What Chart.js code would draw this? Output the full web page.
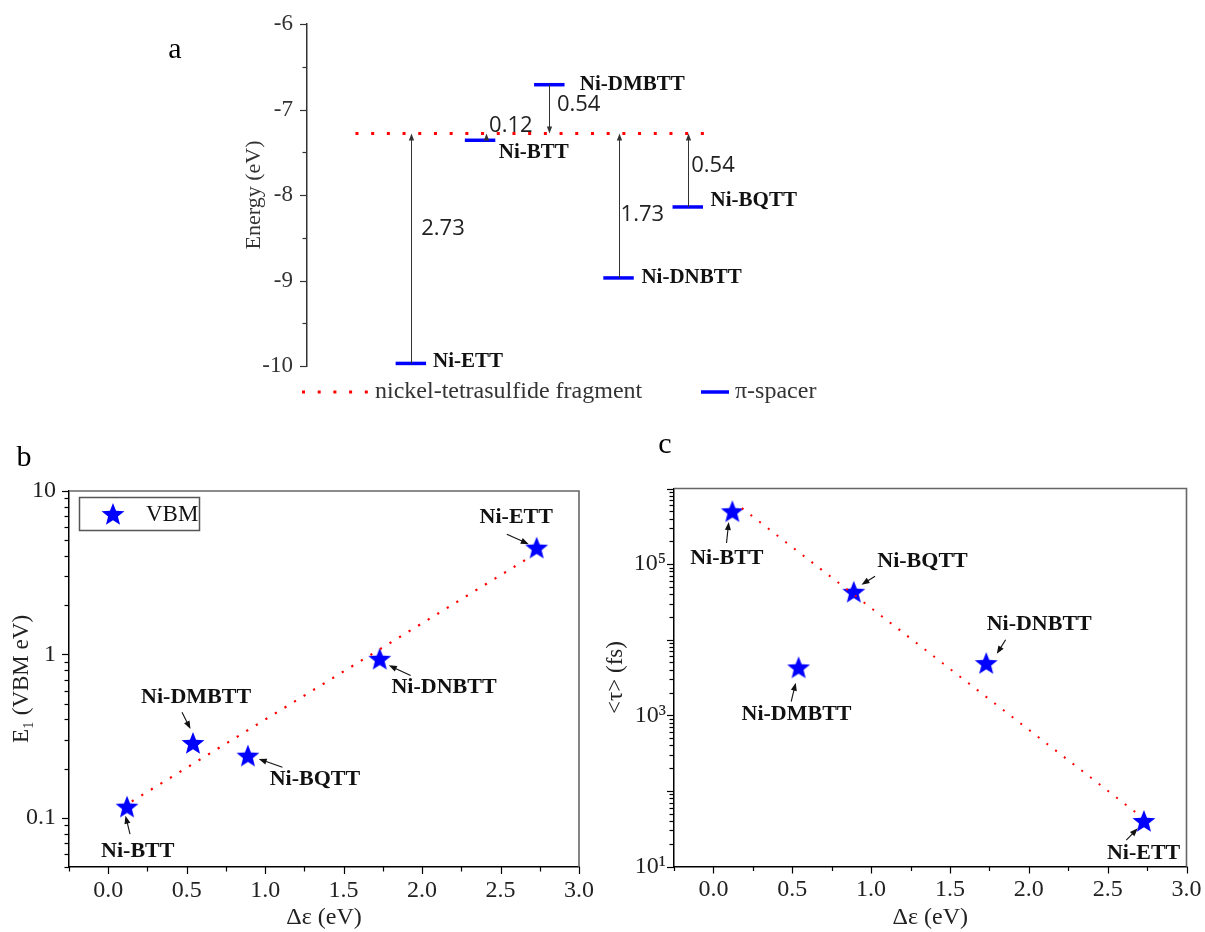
<!DOCTYPE html>
<html>
<head>
<meta charset="utf-8">
<title>Ni-bis(dithiolene) levels, E1 and lifetime</title>
<script src="https://cdn.jsdelivr.net/npm/chart.js@4.4.1/dist/chart.umd.min.js"></script>
<style>
  html, body { margin: 0; padding: 0; background: #fff; }
  #page { position: relative; width: 1205px; height: 932px; overflow: hidden; }
  canvas { position: absolute; }
  #chartA { left: 140px; top: 0; }
  #chartB { left: 0; top: 430px; }
  #chartC { left: 600px; top: 430px; }
</style>
</head>
<body>
<div id="page">
  <canvas id="chartA" width="740" height="415"></canvas>
  <canvas id="chartB" width="600" height="502"></canvas>
  <canvas id="chartC" width="605" height="502"></canvas>
</div>
<script>
// ---- panel a : energy levels ----
const molecules = ['Ni-ETT', 'Ni-BTT', 'Ni-DMBTT', 'Ni-DNBTT', 'Ni-BQTT'];
const spacerEnergy = [-9.97, -7.36, -6.71, -8.97, -8.14];   // eV
const fragmentEnergy = -7.28;                               // eV
const fragmentSpan = [-0.8, 4.3];                           // in molecule index units
const gapLabels = ['2.73', '0.12', '0.54', '1.73', '0.54'];
const energyTicks = [-10, -9, -8, -7, -6];

// ---- panels b, c ----
const pointNames = ['Ni-BTT', 'Ni-DMBTT', 'Ni-BQTT', 'Ni-DNBTT', 'Ni-ETT'];
const deltaEps = [0.12, 0.54, 0.89, 1.73, 2.73];            // eV
const vbmE1 = [0.117, 0.287, 0.24, 0.94, 4.5];              // eV
const tauFs = [5.0e5, 4.3e3, 4.3e4, 4.9e3, 40];             // fs
const fitVbmX = [0.15, 2.68];
const fitVbmY = [0.126, 3.9];
const fitTauX = [0.18, 2.70];
const fitTauY = [5.5e5, 48];
const deltaTicks = [0, 0.5, 1.0, 1.5, 2.0, 2.5, 3.0];
const vbmTicks = [0.1, 1, 10];
const tauTicks = [10, 1e3, 1e5];
const tauTickLabels = ['10\u00B9', '10\u00B3', '10\u2075'];

const SERIF = "'Liberation Serif', 'Times New Roman', serif";
Chart.defaults.font.family = SERIF;
Chart.defaults.color = '#222';

// filled five point star used as marker
function makeStar(r) {
    const c = document.createElement('canvas');
    const s = Math.ceil(r * 2 + 2);
    c.width = s; c.height = s;
    const g = c.getContext('2d');
    g.fillStyle = '#0000ff';
    g.beginPath();
    for (let k = 0; k < 10; k++) {
        const rad = k % 2 === 0 ? r : r * 0.43;
        const a = -Math.PI / 2 + k * Math.PI / 5;
        const px = s / 2 + rad * Math.cos(a), py = s / 2 + 1 + rad * Math.sin(a);
        if (k === 0) g.moveTo(px, py); else g.lineTo(px, py);
    }
    g.closePath();
    g.fill();
    return c;
}
const starImg = makeStar(12);

function arrow(ctx, x1, y1, x2, y2, head, color, lw) {
    const ang = Math.atan2(y2 - y1, x2 - x1);
    const c = Math.cos(ang), s = Math.sin(ang);
    ctx.strokeStyle = color; ctx.fillStyle = color; ctx.lineWidth = lw;
    ctx.beginPath();
    ctx.moveTo(x1, y1);
    ctx.lineTo(x2 - c * head * 0.7, y2 - s * head * 0.7);
    ctx.stroke();
    ctx.beginPath();
    ctx.moveTo(x2, y2);
    ctx.lineTo(x2 - head * c + head * 0.38 * s, y2 - head * s - head * 0.38 * c);
    ctx.lineTo(x2 - head * c - head * 0.38 * s, y2 - head * s + head * 0.38 * c);
    ctx.closePath();
    ctx.fill();
}

function logMinor(lo, hi, min, max) {
    const out = [];
    for (let e = lo; e <= hi; e++) {
        for (let k = 2; k <= 9; k++) {
            const v = k * Math.pow(10, e);
            if (v >= min && v <= max) out.push(v);
        }
    }
    return out;
}

// tick marks drawn by hand so minor ones can be shorter
const axisTicks = {
    id: 'axisTicks',
    afterDraw(chart, args, opts) {
        const ctx = chart.ctx;
        ctx.save();
        ctx.strokeStyle = opts.color || '#000';
        ctx.lineWidth = 1.2;
        (opts.axes || []).forEach(a => {
            const scale = chart.scales[a.id];
            const draw = (v, len) => {
                const p = Math.round(scale.getPixelForValue(v)) + 0.5;
                ctx.beginPath();
                if (scale.isHorizontal()) {
                    ctx.moveTo(p, scale.top); ctx.lineTo(p, scale.top + len);
                } else {
                    ctx.moveTo(scale.right, p); ctx.lineTo(scale.right - len, p);
                }
                ctx.stroke();
            };
            a.major.forEach(v => draw(v, 7));
            a.minor.forEach(v => draw(v, 4.5));
        });
        if (opts.frame) {
            const ca = chart.chartArea;
            ctx.strokeStyle = '#666';
            ctx.lineWidth = 1.6;
            ctx.beginPath();
            ctx.moveTo(ca.left, ca.top);
            ctx.lineTo(ca.right, ca.top);
            ctx.lineTo(ca.right, ca.bottom);
            ctx.stroke();
        }
        ctx.restore();
    }
};

// ---------------- panel a ----------------
const arrowShift = [0, 0.09, 0, 0, 0];
const gapPos = [[0.15, -8.39], [1.13, -7.19], [2.11, -6.94], [3.03, -8.23], [4.05, -7.66]];
const namePos = [[0.32, -9.95], [1.27, -7.5], [2.44, -6.705], [3.33, -8.967], [4.33, -8.06]];

const levelNotes = {
    id: 'levelNotes',
    afterDraw(chart) {
        const {ctx} = chart;
        const x = chart.scales.x, y = chart.scales.y;
        ctx.save();
        molecules.forEach((m, i) => {
            const ax = Math.round(x.getPixelForValue(i + arrowShift[i])) + 0.5;
            arrow(ctx, ax, y.getPixelForValue(spacerEnergy[i]), ax, y.getPixelForValue(fragmentEnergy), 7, '#333', 1);
            ctx.fillStyle = '#222';
            ctx.font = "22px 'Open Sans', sans-serif";
            ctx.textAlign = 'left';
            ctx.textBaseline = 'middle';
            ctx.fillText(gapLabels[i], x.getPixelForValue(gapPos[i][0]), y.getPixelForValue(gapPos[i][1]));
            ctx.fillStyle = '#111';
            ctx.font = 'bold 21px ' + SERIF;
            ctx.fillText(m, x.getPixelForValue(namePos[i][0]), y.getPixelForValue(namePos[i][1]));
        });
        // legend under the axis
        const ly = 392;
        ctx.strokeStyle = '#ff0000';
        ctx.lineWidth = 3;
        ctx.setLineDash([3, 12.7]);
        ctx.beginPath(); ctx.moveTo(162, ly); ctx.lineTo(230, ly); ctx.stroke();
        ctx.setLineDash([]);
        ctx.fillStyle = '#333';
        ctx.font = '24px ' + SERIF;
        ctx.textAlign = 'left';
        ctx.textBaseline = 'middle';
        ctx.fillText('nickel-tetrasulfide fragment', 235, ly);
        ctx.strokeStyle = '#0000ff';
        ctx.lineWidth = 3.5;
        ctx.beginPath(); ctx.moveTo(561, ly); ctx.lineTo(589, ly); ctx.stroke();
        ctx.fillText('\u03C0-spacer', 595, ly);
        // panel letter
        ctx.fillStyle = '#000';
        ctx.font = '30px ' + SERIF;
        ctx.textAlign = 'center';
        ctx.fillText('a', 35, 50);
        ctx.restore();
    }
};

const levelSets = molecules.map((m, i) => ({
    label: m,
    data: [{x: i - 0.22, y: spacerEnergy[i]}, {x: i + 0.22, y: spacerEnergy[i]}],
    showLine: true,
    borderColor: '#0000ff',
    borderWidth: 3.5,
    pointRadius: 0
}));

new Chart(document.getElementById('chartA'), {
    type: 'scatter',
    data: {
        datasets: [{
            label: 'nickel-tetrasulfide fragment',
            data: fragmentSpan.map(v => ({x: v, y: fragmentEnergy})),
            showLine: true,
            borderColor: '#ff0000',
            borderWidth: 3,
            borderDash: [3, 12.7],
            pointRadius: 0
        }].concat(levelSets)
    },
    options: {
        responsive: false,
        animation: false,
        devicePixelRatio: 1,
        layout: {padding: {left: 0, top: 24, right: 123, bottom: 49}},
        plugins: {
            legend: {display: false},
            tooltip: {enabled: false},
            axisTicks: {axes: [{id: 'y', major: energyTicks, minor: [-9.5, -8.5, -7.5, -6.5]}], color: '#333'}
        },
        scales: {
            x: {type: 'linear', display: false, min: -1.5, max: 5},
            y: {
                min: -10, max: -6,
                border: {display: true, color: '#333', width: 1.5},
                grid: {display: true, drawOnChartArea: false, drawTicks: true, tickLength: 7, tickColor: 'rgba(0,0,0,0)'},
                ticks: {font: {size: 23}, color: '#333', padding: 7, callback: v => String(v)},
                afterBuildTicks: s => { s.ticks = energyTicks.map(v => ({value: v})); },
                afterFit: s => { s.width = 167; },
                title: {display: true, text: 'Energy (eV)', font: {size: 22}, color: '#333', padding: {top: 101, bottom: 0}}
            }
        }
    },
    plugins: [axisTicks, levelNotes]
});

// ---------------- panels b and c ----------------
function notePlugin(id, notes, extra) {
    return {
        id: id,
        afterDraw(chart) {
            const {ctx} = chart;
            const x = chart.scales.x, y = chart.scales.y;
            ctx.save();
            notes.forEach(n => {
                arrow(ctx, x.getPixelForValue(n.a[0]), y.getPixelForValue(n.a[1]),
                    x.getPixelForValue(n.a[2]), y.getPixelForValue(n.a[3]), 8, '#111', 1.1);
                ctx.fillStyle = '#111';
                ctx.font = 'bold 22px ' + SERIF;
                ctx.textAlign = 'center';
                ctx.textBaseline = 'middle';
                ctx.fillText(n.name, x.getPixelForValue(n.t[0]), y.getPixelForValue(n.t[1]));
            });
            extra(ctx, chart);
            ctx.restore();
        }
    };
}

const notesB = [
    {name: 'Ni-ETT', t: [2.60, 6.95], a: [2.54, 5.43, 2.68, 4.73]},
    {name: 'Ni-DNBTT', t: [2.14, 0.625], a: [1.927, 0.743, 1.788, 0.857]},
    {name: 'Ni-DMBTT', t: [0.56, 0.547], a: [0.47, 0.443, 0.524, 0.35]},
    {name: 'Ni-BQTT', t: [1.317, 0.173], a: [1.11, 0.204, 0.959, 0.229]},
    {name: 'Ni-BTT', t: [0.188, 0.0628], a: [0.139, 0.0794, 0.11, 0.103]}
];
const notesC = [
    {name: 'Ni-BTT', t: [0.085, 1.2e5], a: [0.083, 1.9e5, 0.097, 3.6e5]},
    {name: 'Ni-BQTT', t: [1.326, 1.09e5], a: [1.025, 6.9e4, 0.939, 5.35e4]},
    {name: 'Ni-DNBTT', t: [2.066, 1.58e4], a: [1.853, 1.0e4, 1.797, 6.5e3]},
    {name: 'Ni-DMBTT', t: [0.527, 1.02e3], a: [0.493, 1.52e3, 0.522, 2.7e3]},
    {name: 'Ni-ETT', t: [2.728, 14.9], a: [2.618, 22.4, 2.691, 32]}
];

function xScale(height) {
    return {
        type: 'linear', min: -0.25, max: 3,
        border: {display: true, color: '#000', width: 1.5},
        grid: {display: true, drawOnChartArea: false, drawTicks: true, tickLength: 7, tickColor: 'rgba(0,0,0,0)'},
        ticks: {font: {size: 24}, color: '#222', padding: 2, maxRotation: 0, callback: v => v.toFixed(1)},
        afterBuildTicks: s => { s.ticks = deltaTicks.map(v => ({value: v})); },
        afterFit: s => { s.height = height; },
        title: {display: true, text: '\u0394\u03B5 (eV)', font: {size: 24}, color: '#222', padding: {top: 0, bottom: 0}}
    };
}

const deltaMinor = [-0.25, 0.25, 0.75, 1.25, 1.75, 2.25, 2.75];

new Chart(document.getElementById('chartB'), {
    type: 'scatter',
    data: {
        datasets: [{
            label: 'fit',
            data: fitVbmX.map((v, i) => ({x: v, y: fitVbmY[i]})),
            showLine: true,
            borderColor: '#ff0000',
            borderWidth: 2.2,
            borderDash: [2.2, 9],
            pointRadius: 0
        }, {
            label: 'VBM',
            data: deltaEps.map((v, i) => ({x: v, y: vbmE1[i]})),
            pointStyle: starImg,
            pointRadius: 12
        }]
    },
    options: {
        responsive: false,
        animation: false,
        devicePixelRatio: 1,
        layout: {padding: {left: 0, top: 61, right: 21, bottom: 0}},
        plugins: {
            legend: {display: false},
            tooltip: {enabled: false},
            axisTicks: {
                frame: true,
                axes: [
                    {id: 'x', major: deltaTicks, minor: deltaMinor},
                    {id: 'y', major: vbmTicks, minor: logMinor(-2, 0, 0.05, 10)}
                ]
            }
        },
        scales: {
            x: xScale(65),
            y: {
                type: 'logarithmic', min: 0.05, max: 10,
                border: {display: true, color: '#000', width: 1.5},
                grid: {display: true, drawOnChartArea: false, drawTicks: true, tickLength: 7, tickColor: 'rgba(0,0,0,0)'},
                ticks: {font: {size: 24}, color: '#222', padding: 6, callback: v => String(v)},
                afterBuildTicks: s => { s.ticks = vbmTicks.map(v => ({value: v})); },
                afterFit: s => { s.width = 69; },
                title: {display: true, text: 'E\u2081 (VBM eV)', font: {size: 23}, color: '#222', padding: {top: 8, bottom: 0}}
            }
        }
    },
    plugins: [axisTicks, notePlugin('notesB', notesB, (ctx, chart) => {
        const ca = chart.chartArea;
        ctx.strokeStyle = '#555';
        ctx.lineWidth = 1.5;
        ctx.strokeRect(ca.left + 10.5, ca.top + 6.5, 120, 33);
        ctx.drawImage(starImg, ca.left + 44 - starImg.width / 2, ca.top + 23 - starImg.height / 2);
        ctx.fillStyle = '#111';
        ctx.font = '23px ' + SERIF;
        ctx.textAlign = 'left';
        ctx.textBaseline = 'middle';
        ctx.fillText('VBM', ca.left + 77, ca.top + 24);
        ctx.fillStyle = '#000';
        ctx.font = '30px ' + SERIF;
        ctx.textAlign = 'center';
        ctx.fillText('b', 24, 28);
    })]
});

new Chart(document.getElementById('chartC'), {
    type: 'scatter',
    data: {
        datasets: [{
            label: 'fit',
            data: fitTauX.map((v, i) => ({x: v, y: fitTauY[i]})),
            showLine: true,
            borderColor: '#ff0000',
            borderWidth: 2,
            borderDash: [2, 9],
            pointRadius: 0
        }, {
            label: '<\u03C4>',
            data: deltaEps.map((v, i) => ({x: v, y: tauFs[i]})),
            pointStyle: starImg,
            pointRadius: 12
        }]
    },
    options: {
        responsive: false,
        animation: false,
        devicePixelRatio: 1,
        layout: {padding: {left: 0, top: 58.5, right: 18.5, bottom: 0}},
        plugins: {
            legend: {display: false},
            tooltip: {enabled: false},
            axisTicks: {
                frame: true,
                axes: [
                    {id: 'x', major: deltaTicks, minor: deltaMinor},
                    {id: 'y', major: [10, 100, 1e3, 1e4, 1e5, 1e6], minor: logMinor(1, 5, 10, 1e6)}
                ]
            }
        },
        scales: {
            x: xScale(65.5),
            y: {
                type: 'logarithmic', min: 10, max: 1e6,
                border: {display: true, color: '#000', width: 1.5},
                grid: {display: true, drawOnChartArea: false, drawTicks: true, tickLength: 7, tickColor: 'rgba(0,0,0,0)'},
                ticks: {font: {size: 24}, color: '#222', padding: 1, callback: (v, i) => tauTickLabels[i]},
                afterBuildTicks: s => { s.ticks = tauTicks.map(v => ({value: v})); },
                afterFit: s => { s.width = 74; },
                title: {display: true, text: '<\u03C4> (fs)', font: {size: 23}, color: '#222', padding: {top: 2, bottom: 0}}
            }
        }
    },
    plugins: [axisTicks, notePlugin('notesC', notesC, (ctx) => {
        ctx.fillStyle = '#000';
        ctx.font = '30px ' + SERIF;
        ctx.textAlign = 'center';
        ctx.textBaseline = 'middle';
        ctx.fillText('c', 65, 15);
    })]
});
</script>
</body>
</html>
